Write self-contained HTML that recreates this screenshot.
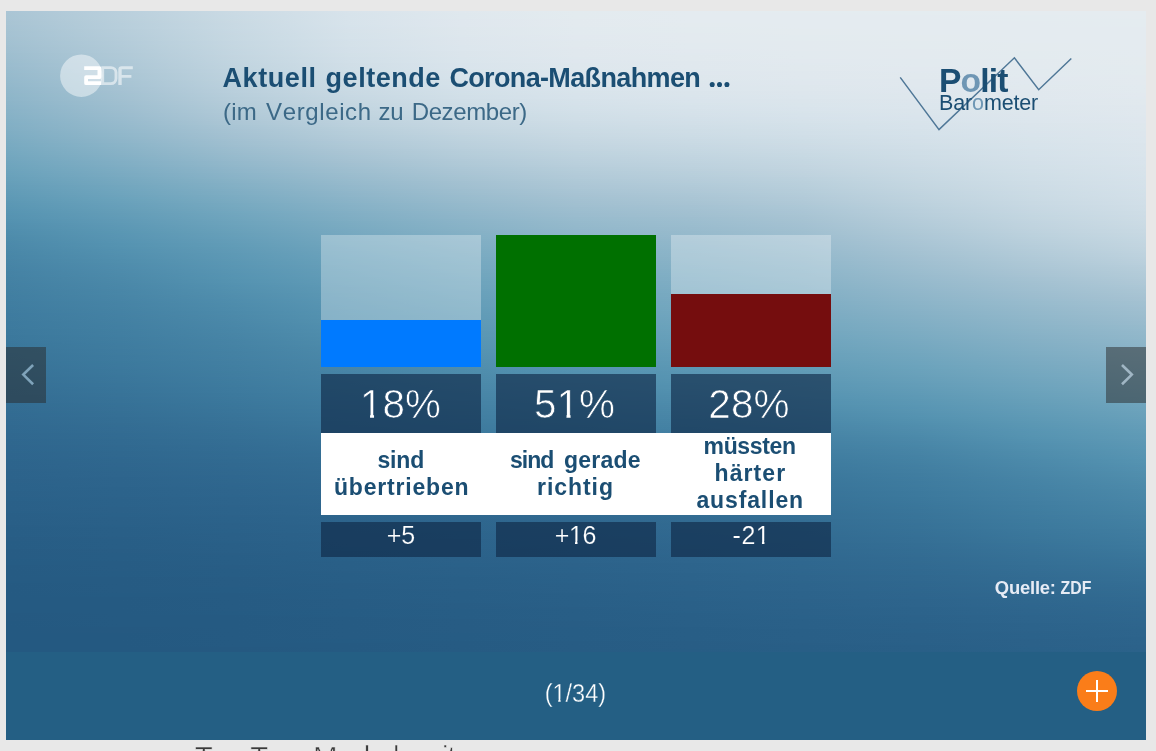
<!DOCTYPE html>
<html lang="de">
<head>
<meta charset="utf-8">
<title>Politbarometer</title>
<style>
html,body{margin:0;padding:0;}
body{width:1156px;height:751px;overflow:hidden;position:relative;background:#e8e8e8;font-family:"Liberation Sans",sans-serif;}
.abs{position:absolute;}
#img{left:6px;top:11px;width:1140px;height:641px;overflow:hidden;background:#245a82;}
#img i{display:block;height:2px;}
#bar{left:6px;top:652px;width:1140px;height:88px;background:#245f84;}
.col{background:rgba(15,42,72,0.65);}
.nav{width:40px;height:56px;top:347px;background:rgba(40,40,40,0.5);}
svg text{font-family:"Liberation Sans",sans-serif;white-space:pre;font-kerning:none;}
</style>
</head>
<body>
<div id="img" class="abs">
<i style="background:linear-gradient(90deg,#aac5d5,#b9cfdc,#cadae4,#d8e3eb,#e0e8ee,#e3ebef,#e4ebf0,#e4ecf0,#e4ecf0,#e5ecf0,#e5ecf0)"></i>
<i style="background:linear-gradient(90deg,#aac5d4,#b9cfdc,#cadae4,#d7e3eb,#dfe8ee,#e3ebef,#e4ebf0,#e4ebf0,#e4ecf0,#e5ecf0,#e5ecf0)"></i>
<i style="background:linear-gradient(90deg,#a9c5d4,#b9cfdc,#c9dae4,#d7e3eb,#dfe8ee,#e3ebef,#e4ebf0,#e4ebf0,#e4ebf0,#e4ecf0,#e5ecf0)"></i>
<i style="background:linear-gradient(90deg,#a9c5d4,#b9cfdb,#c9dae4,#d7e3eb,#dfe8ee,#e3ebef,#e4ebf0,#e4ebf0,#e4ebf0,#e4ecf0,#e5ecf0)"></i>
<i style="background:linear-gradient(90deg,#a9c4d4,#b8cfdb,#c9dae3,#d7e3eb,#dfe7ee,#e3eaef,#e4ebf0,#e4ebf0,#e4ebf0,#e4ecf0,#e4ecf0)"></i>
<i style="background:linear-gradient(90deg,#a8c4d3,#b8cedb,#c9d9e3,#d7e3eb,#dfe7ee,#e3eaef,#e4ebf0,#e4ebf0,#e4ebf0,#e4ebf0,#e4ecf0)"></i>
<i style="background:linear-gradient(90deg,#a8c4d3,#b7cedb,#c8d9e3,#d7e3eb,#dfe7ee,#e3eaef,#e4ebef,#e4ebf0,#e4ebf0,#e4ebf0,#e4ecf0)"></i>
<i style="background:linear-gradient(90deg,#a7c3d3,#b7cedb,#c8d9e3,#d6e3eb,#dfe7ee,#e3eaef,#e4ebef,#e4ebf0,#e4ebf0,#e4ebf0,#e4ecf0)"></i>
<i style="background:linear-gradient(90deg,#a6c3d3,#b7cedb,#c8d9e3,#d6e2eb,#dee7ed,#e2eaef,#e3ebef,#e4ebf0,#e4ebf0,#e4ebf0,#e4ebf0)"></i>
<i style="background:linear-gradient(90deg,#a6c3d2,#b6cdda,#c7d9e3,#d6e2ea,#dee7ed,#e2eaef,#e3ebef,#e4ebef,#e4ebf0,#e4ebf0,#e4ebf0)"></i>
<i style="background:linear-gradient(90deg,#a5c2d2,#b6cdda,#c7d8e3,#d6e2ea,#dee7ed,#e2eaef,#e3ebef,#e4ebef,#e4ebf0,#e4ebf0,#e4ebf0)"></i>
<i style="background:linear-gradient(90deg,#a5c2d2,#b5cdda,#c7d8e2,#d5e2ea,#dee7ed,#e2eaef,#e3eaef,#e4ebef,#e4ebf0,#e4ebf0,#e4ebf0)"></i>
<i style="background:linear-gradient(90deg,#a4c2d2,#b5ccda,#c6d8e2,#d5e2ea,#dde7ed,#e2e9ef,#e3eaef,#e3ebef,#e4ebef,#e4ebf0,#e4ebf0)"></i>
<i style="background:linear-gradient(90deg,#a4c1d1,#b4ccd9,#c6d8e2,#d5e2ea,#dde6ed,#e2e9ef,#e3eaef,#e3ebef,#e4ebef,#e4ebf0,#e4ebf0)"></i>
<i style="background:linear-gradient(90deg,#a3c1d1,#b4ccd9,#c6d8e2,#d4e1ea,#dde6ed,#e1e9ef,#e3eaef,#e3ebef,#e4ebef,#e4ebf0,#e4ebf0)"></i>
<i style="background:linear-gradient(90deg,#a2c1d1,#b3cbd9,#c5d7e2,#d4e1e9,#dde6ed,#e1e9ee,#e3eaef,#e3eaef,#e3ebef,#e4ebf0,#e4ebf0)"></i>
<i style="background:linear-gradient(90deg,#a2c0d1,#b3cbd9,#c5d7e2,#d4e1e9,#dde6ed,#e1e9ee,#e2eaef,#e3eaef,#e3ebef,#e4ebef,#e4ebf0)"></i>
<i style="background:linear-gradient(90deg,#a1c0d0,#b2cbd8,#c5d7e1,#d4e1e9,#dce6ed,#e1e9ee,#e2eaef,#e3eaef,#e3ebef,#e4ebef,#e4ebf0)"></i>
<i style="background:linear-gradient(90deg,#a0bfd0,#b2cad8,#c4d7e1,#d3e0e9,#dce6ed,#e1e8ee,#e2eaef,#e3eaef,#e3ebef,#e4ebef,#e4ebf0)"></i>
<i style="background:linear-gradient(90deg,#a0bfd0,#b1cad8,#c4d6e1,#d3e0e9,#dce6ed,#e0e8ee,#e2e9ef,#e3eaef,#e3eaef,#e4ebef,#e4ebf0)"></i>
<i style="background:linear-gradient(90deg,#9fbfd0,#b1cad8,#c3d6e1,#d3e0e9,#dbe5ec,#e0e8ee,#e2e9ef,#e2eaef,#e3eaef,#e3ebef,#e4ebf0)"></i>
<i style="background:linear-gradient(90deg,#9ebecf,#b0c9d7,#c3d6e1,#d2e0e8,#dbe5ec,#e0e8ee,#e1e9ef,#e2eaef,#e3eaef,#e3ebef,#e4ebf0)"></i>
<i style="background:linear-gradient(90deg,#9dbecf,#b0c9d7,#c3d5e0,#d2e0e8,#dbe5ec,#e0e8ee,#e1e9ee,#e2eaef,#e3eaef,#e3ebef,#e4ebf0)"></i>
<i style="background:linear-gradient(90deg,#9dbdcf,#afc9d7,#c2d5e0,#d1dfe8,#dae5ec,#dfe8ee,#e1e9ee,#e2eaef,#e3eaef,#e3ebef,#e4ebef)"></i>
<i style="background:linear-gradient(90deg,#9cbdce,#aec8d7,#c2d5e0,#d1dfe8,#dae5ec,#dfe7ee,#e1e9ee,#e2e9ef,#e2eaef,#e3eaef,#e4ebef)"></i>
<i style="background:linear-gradient(90deg,#9bbdce,#aec8d6,#c1d5e0,#d1dfe8,#dae5ec,#dfe7ee,#e0e8ee,#e2e9ef,#e2eaef,#e3eaef,#e4ebef)"></i>
<i style="background:linear-gradient(90deg,#9abcce,#adc7d6,#c1d4e0,#d0dee7,#d9e4ec,#dee7ed,#e0e8ee,#e1e9ef,#e2eaef,#e3eaef,#e4ebef)"></i>
<i style="background:linear-gradient(90deg,#9abcce,#adc7d6,#c0d4df,#d0dee7,#d9e4ec,#dee7ed,#e0e8ee,#e1e9ee,#e2eaef,#e3eaef,#e3ebef)"></i>
<i style="background:linear-gradient(90deg,#99bbcd,#acc7d5,#c0d4df,#cfdee7,#d9e4ec,#dee7ed,#e0e8ee,#e1e9ee,#e2e9ef,#e3eaef,#e3ebef)"></i>
<i style="background:linear-gradient(90deg,#98bbcd,#abc6d5,#bfd3df,#cfdee7,#d8e4eb,#dde7ed,#dfe8ee,#e1e9ee,#e2e9ef,#e2eaef,#e3ebef)"></i>
<i style="background:linear-gradient(90deg,#97bbcd,#abc6d5,#bfd3df,#cedde6,#d8e3eb,#dde6ed,#dfe7ee,#e0e8ee,#e1e9ef,#e2eaef,#e3ebef)"></i>
<i style="background:linear-gradient(90deg,#97bacc,#aac5d4,#bed3de,#cedde6,#d7e3eb,#dde6ed,#dfe7ee,#e0e8ee,#e1e9ee,#e2eaef,#e3ebef)"></i>
<i style="background:linear-gradient(90deg,#96bacc,#a9c5d4,#bed2de,#cddde6,#d7e3eb,#dce6ed,#dee7ed,#e0e8ee,#e1e9ee,#e2eaef,#e3eaef)"></i>
<i style="background:linear-gradient(90deg,#95b9cc,#a9c5d4,#bdd2de,#cddce6,#d6e3eb,#dce6ed,#dee7ed,#e0e8ee,#e1e9ee,#e2e9ef,#e3eaef)"></i>
<i style="background:linear-gradient(90deg,#94b9cc,#a8c4d4,#bdd2dd,#ccdce5,#d6e2ea,#dbe5ec,#dee7ed,#dfe8ee,#e0e8ee,#e2e9ef,#e3eaef)"></i>
<i style="background:linear-gradient(90deg,#94b9cb,#a7c4d3,#bcd1dd,#ccdce5,#d5e2ea,#dbe5ec,#dde7ed,#dfe7ee,#e0e8ee,#e1e9ef,#e3eaef)"></i>
<i style="background:linear-gradient(90deg,#93b8cb,#a7c3d3,#bbd1dd,#cbdbe5,#d5e2ea,#dae5ec,#dde6ed,#dfe7ee,#e0e8ee,#e1e9ef,#e3eaef)"></i>
<i style="background:linear-gradient(90deg,#92b8cb,#a6c3d3,#bbd0dd,#cbdbe4,#d4e1ea,#dae5ec,#dde6ed,#dee7ed,#e0e8ee,#e1e9ee,#e2eaef)"></i>
<i style="background:linear-gradient(90deg,#91b7ca,#a5c2d2,#bad0dc,#cadae4,#d4e1e9,#d9e4ec,#dce6ed,#dee7ed,#dfe8ee,#e1e9ee,#e2eaef)"></i>
<i style="background:linear-gradient(90deg,#90b7ca,#a5c2d2,#b9cfdc,#c9dae4,#d3e0e9,#d9e4ec,#dce6ed,#dee7ed,#dfe7ee,#e1e8ee,#e2eaef)"></i>
<i style="background:linear-gradient(90deg,#90b6ca,#a4c1d2,#b9cfdc,#c9d9e3,#d2e0e9,#d8e4eb,#dbe5ec,#dde6ed,#dfe7ee,#e0e8ee,#e2eaef)"></i>
<i style="background:linear-gradient(90deg,#8fb6c9,#a3c1d1,#b8cedb,#c8d9e3,#d2e0e8,#d8e3eb,#dbe5ec,#dde6ed,#dee7ed,#e0e8ee,#e2e9ef)"></i>
<i style="background:linear-gradient(90deg,#8eb6c9,#a2c1d1,#b7cedb,#c7d8e3,#d1dfe8,#d7e3eb,#dae5ec,#dce6ed,#dee7ed,#e0e8ee,#e2e9ef)"></i>
<i style="background:linear-gradient(90deg,#8db5c9,#a2c0d1,#b6cdda,#c6d8e2,#d1dfe8,#d7e3eb,#dae4ec,#dce6ed,#dee7ed,#e0e8ee,#e1e9ef)"></i>
<i style="background:linear-gradient(90deg,#8db5c9,#a1c0d0,#b6cdda,#c6d7e2,#d0dee7,#d6e2ea,#d9e4ec,#dbe5ec,#dde6ed,#dfe8ee,#e1e9ee)"></i>
<i style="background:linear-gradient(90deg,#8cb4c8,#a0bfd0,#b5ccda,#c5d7e1,#cfdee7,#d5e2ea,#d9e4ec,#dbe5ec,#dde6ed,#dfe7ee,#e1e9ee)"></i>
<i style="background:linear-gradient(90deg,#8bb4c8,#9fbfd0,#b4ccd9,#c4d6e1,#cedde6,#d5e1ea,#d8e4eb,#dae5ec,#dce6ed,#dfe7ee,#e1e9ee)"></i>
<i style="background:linear-gradient(90deg,#8ab3c8,#9ebecf,#b3cbd9,#c3d6e1,#cedde6,#d4e1e9,#d7e3eb,#dae5ec,#dce6ed,#dee7ed,#e0e8ee)"></i>
<i style="background:linear-gradient(90deg,#89b3c7,#9dbecf,#b2cbd8,#c2d5e0,#cddce6,#d3e1e9,#d7e3eb,#d9e4ec,#dce6ed,#dee7ed,#e0e8ee)"></i>
<i style="background:linear-gradient(90deg,#88b2c7,#9dbdcf,#b1cad8,#c2d5e0,#ccdce5,#d3e0e9,#d6e2ea,#d9e4ec,#dbe5ec,#dee7ed,#e0e8ee)"></i>
<i style="background:linear-gradient(90deg,#88b2c7,#9cbdce,#b1cad8,#c1d4df,#cbdbe5,#d2e0e8,#d5e2ea,#d8e4eb,#dbe5ec,#dde7ed,#e0e8ee)"></i>
<i style="background:linear-gradient(90deg,#87b2c6,#9bbcce,#b0c9d7,#c0d4df,#cadbe4,#d1dfe8,#d5e1ea,#d7e3eb,#dae5ec,#dde6ed,#e0e8ee)"></i>
<i style="background:linear-gradient(90deg,#86b1c6,#9abcce,#afc8d7,#bfd3de,#c9dae4,#d0dfe7,#d4e1e9,#d7e3eb,#dae4ec,#dde6ed,#dfe8ee)"></i>
<i style="background:linear-gradient(90deg,#85b1c6,#99bbcd,#aec8d6,#bed2de,#c8d9e3,#d0dee7,#d3e0e9,#d6e2eb,#d9e4ec,#dce6ed,#dfe7ee)"></i>
<i style="background:linear-gradient(90deg,#84b0c5,#98bbcd,#adc7d6,#bdd2de,#c8d9e3,#cfdee7,#d2e0e9,#d6e2ea,#d9e4ec,#dce6ed,#dfe7ee)"></i>
<i style="background:linear-gradient(90deg,#83b0c5,#97bacd,#acc6d5,#bcd1dd,#c7d8e2,#cedde6,#d2dfe8,#d5e2ea,#d8e4eb,#dce6ed,#dfe7ee)"></i>
<i style="background:linear-gradient(90deg,#82afc5,#96bacc,#abc6d5,#bbd0dd,#c6d7e2,#cddce6,#d1dfe8,#d4e1e9,#d8e3eb,#dbe5ec,#dee7ed)"></i>
<i style="background:linear-gradient(90deg,#82afc4,#95b9cc,#a9c5d4,#bad0dc,#c5d7e1,#ccdce5,#d0dee7,#d3e1e9,#d7e3eb,#dbe5ec,#dee7ed)"></i>
<i style="background:linear-gradient(90deg,#81aec4,#94b9cb,#a8c4d4,#b8cfdb,#c4d6e1,#cbdbe5,#cfdee7,#d3e0e9,#d7e3eb,#dae5ec,#dee7ed)"></i>
<i style="background:linear-gradient(90deg,#80aec4,#93b8cb,#a7c3d3,#b7cedb,#c3d5e0,#cadbe4,#cedde6,#d2e0e8,#d6e2ea,#dae5ec,#dde7ed)"></i>
<i style="background:linear-gradient(90deg,#7fadc3,#92b8cb,#a6c3d3,#b6cdda,#c2d5e0,#cadae4,#cedde6,#d1dfe8,#d5e2ea,#dae4ec,#dde6ed)"></i>
<i style="background:linear-gradient(90deg,#7eadc3,#91b7ca,#a5c2d2,#b5cdda,#c1d4df,#c9d9e3,#cddce6,#d1dfe8,#d5e2ea,#d9e4ec,#dde6ed)"></i>
<i style="background:linear-gradient(90deg,#7dacc3,#90b7ca,#a4c1d2,#b4ccd9,#bfd3df,#c8d9e3,#ccdce5,#d0dee7,#d4e1ea,#d9e4ec,#dde6ed)"></i>
<i style="background:linear-gradient(90deg,#7cacc2,#8fb6c9,#a3c1d1,#b3cbd9,#bed3de,#c7d8e2,#cbdbe5,#cfdee7,#d4e1e9,#d8e4eb,#dce6ed)"></i>
<i style="background:linear-gradient(90deg,#7babc2,#8eb5c9,#a1c0d1,#b2cad8,#bdd2de,#c6d7e2,#cadae4,#cedde6,#d3e0e9,#d8e4eb,#dce6ed)"></i>
<i style="background:linear-gradient(90deg,#7aabc1,#8db5c9,#a0bfd0,#b0c9d8,#bcd1dd,#c5d7e1,#c9dae4,#cddde6,#d3e0e9,#d8e3eb,#dce6ed)"></i>
<i style="background:linear-gradient(90deg,#79aac1,#8bb4c8,#9fbfd0,#afc9d7,#bbd0dd,#c4d6e1,#c8d9e3,#cddce5,#d2e0e8,#d7e3eb,#dbe5ec)"></i>
<i style="background:linear-gradient(90deg,#78aac1,#8ab4c8,#9ebecf,#aec8d6,#bad0dc,#c3d5e0,#c7d8e3,#ccdbe5,#d1dfe8,#d7e3eb,#dbe5ec)"></i>
<i style="background:linear-gradient(90deg,#77a9c0,#89b3c7,#9cbdcf,#adc7d6,#b9cfdc,#c2d5e0,#c6d8e2,#cbdbe5,#d1dfe8,#d6e3eb,#dbe5ec)"></i>
<i style="background:linear-gradient(90deg,#76a9c0,#88b2c7,#9bbdce,#abc6d5,#b7cedb,#c1d4df,#c5d7e2,#cadae4,#d0dee7,#d6e2ea,#dbe5ec)"></i>
<i style="background:linear-gradient(90deg,#75a8c0,#87b2c6,#9abcce,#aac5d4,#b6cdda,#bfd3df,#c4d7e1,#c9dae4,#cfdee7,#d5e2ea,#dae5ec)"></i>
<i style="background:linear-gradient(90deg,#74a8bf,#86b1c6,#99bbcd,#a9c4d4,#b5cdda,#bed3de,#c3d6e1,#c8d9e3,#cfdee7,#d5e2ea,#dae5ec)"></i>
<i style="background:linear-gradient(90deg,#73a7bf,#85b0c5,#97bbcd,#a7c4d3,#b4ccd9,#bdd2de,#c2d5e0,#c7d9e3,#cedde6,#d5e1ea,#dae5ec)"></i>
<i style="background:linear-gradient(90deg,#72a6be,#83b0c5,#96bacc,#a6c3d3,#b3cbd9,#bcd1dd,#c1d4e0,#c6d8e2,#cedde6,#d4e1e9,#d9e4ec)"></i>
<i style="background:linear-gradient(90deg,#71a6be,#82afc5,#95b9cc,#a5c2d2,#b1cad8,#bbd0dd,#c0d4df,#c5d7e2,#cddce6,#d4e1e9,#d9e4ec)"></i>
<i style="background:linear-gradient(90deg,#70a5be,#81aec4,#93b8cb,#a4c1d1,#b0c9d7,#bad0dc,#bfd3df,#c4d7e1,#ccdce5,#d3e0e9,#d9e4ec)"></i>
<i style="background:linear-gradient(90deg,#6fa5bd,#80aec4,#92b8cb,#a2c0d1,#afc9d7,#b9cfdc,#bed2de,#c4d6e1,#ccdbe5,#d3e0e9,#d9e4ec)"></i>
<i style="background:linear-gradient(90deg,#6ea4bd,#7fadc3,#91b7ca,#a1c0d0,#aec8d6,#b8cedb,#bdd2de,#c3d5e0,#cbdbe5,#d2e0e8,#d8e4eb)"></i>
<i style="background:linear-gradient(90deg,#6da4bc,#7dacc3,#8fb6ca,#9fbfd0,#acc7d6,#b6cdda,#bcd1dd,#c2d5e0,#cadae4,#d2e0e8,#d8e3eb)"></i>
<i style="background:linear-gradient(90deg,#6ca3bc,#7cacc2,#8eb5c9,#9ebecf,#abc6d5,#b5cdda,#bbd0dc,#c1d4df,#c9dae4,#d1dfe8,#d8e3eb)"></i>
<i style="background:linear-gradient(90deg,#6ba2bc,#7babc2,#8db5c9,#9dbecf,#aac5d4,#b4ccd9,#b9cfdc,#c0d3df,#c9dae3,#d1dfe8,#d7e3eb)"></i>
<i style="background:linear-gradient(90deg,#6aa2bb,#7aaac1,#8bb4c8,#9bbdce,#a9c4d4,#b3cbd9,#b8cfdb,#bfd3de,#c8d9e3,#d0dfe7,#d7e3eb)"></i>
<i style="background:linear-gradient(90deg,#69a1bb,#79aac1,#8ab3c8,#9abcce,#a7c4d3,#b2cad8,#b7cedb,#bed2de,#c7d9e3,#d0dee7,#d6e3eb)"></i>
<i style="background:linear-gradient(90deg,#68a0ba,#77a9c0,#89b3c7,#99bbcd,#a6c3d2,#b1cad8,#b6cdda,#bcd1dd,#c7d8e2,#cfdee7,#d6e2eb)"></i>
<i style="background:linear-gradient(90deg,#67a0ba,#76a8c0,#87b2c6,#97bbcd,#a5c2d2,#afc9d7,#b5ccda,#bbd1dd,#c6d8e2,#cfdee7,#d6e2ea)"></i>
<i style="background:linear-gradient(90deg,#669fb9,#75a8bf,#86b1c6,#96bacc,#a3c1d1,#aec8d6,#b4ccd9,#bad0dc,#c5d7e2,#cedde6,#d5e2ea)"></i>
<i style="background:linear-gradient(90deg,#659eb9,#74a7bf,#84b0c5,#95b9cc,#a2c0d1,#adc7d6,#b2cbd9,#b9cfdc,#c4d7e1,#cedde6,#d5e2ea)"></i>
<i style="background:linear-gradient(90deg,#649db8,#72a6be,#83b0c5,#93b8cb,#a1c0d0,#acc6d5,#b1cad8,#b8cfdb,#c4d6e1,#cddce6,#d5e1ea)"></i>
<i style="background:linear-gradient(90deg,#639db8,#71a6be,#82afc4,#92b8cb,#a0bfd0,#abc6d5,#b0c9d7,#b7cedb,#c3d6e0,#cddce5,#d4e1ea)"></i>
<i style="background:linear-gradient(90deg,#629cb7,#70a5be,#80aec4,#91b7ca,#9ebecf,#a9c5d4,#afc8d7,#b6cdda,#c2d5e0,#ccdce5,#d4e1e9)"></i>
<i style="background:linear-gradient(90deg,#619bb7,#6fa5bd,#7fadc3,#8fb6ca,#9dbecf,#a8c4d4,#aec8d6,#b5cdda,#c1d4e0,#cbdbe5,#d3e1e9)"></i>
<i style="background:linear-gradient(90deg,#609bb6,#6ea4bd,#7eadc3,#8eb5c9,#9cbdce,#a7c3d3,#acc7d6,#b4ccd9,#c0d4df,#cbdbe5,#d3e0e9)"></i>
<i style="background:linear-gradient(90deg,#5f9ab6,#6da3bc,#7cacc2,#8db5c9,#9abcce,#a6c2d2,#abc6d5,#b3cbd9,#bfd3df,#cadbe4,#d3e0e9)"></i>
<i style="background:linear-gradient(90deg,#5e99b5,#6ba3bc,#7babc2,#8bb4c8,#99bccd,#a4c2d2,#aac5d4,#b2cad8,#bfd3de,#cadae4,#d2e0e8)"></i>
<i style="background:linear-gradient(90deg,#5d99b5,#6aa2bb,#7aabc1,#8ab3c8,#98bbcd,#a3c1d1,#a9c5d4,#b1cad8,#bed2de,#c9dae4,#d2dfe8)"></i>
<i style="background:linear-gradient(90deg,#5c98b4,#69a1bb,#79aac1,#89b3c7,#97bacc,#a2c0d1,#a8c4d3,#b0c9d7,#bdd2de,#c8d9e3,#d1dfe8)"></i>
<i style="background:linear-gradient(90deg,#5b97b4,#68a0ba,#77a9c0,#87b2c7,#95b9cc,#a1c0d0,#a7c3d3,#afc8d7,#bcd1dd,#c8d9e3,#d1dfe8)"></i>
<i style="background:linear-gradient(90deg,#5a97b3,#679fba,#76a9c0,#86b1c6,#94b9cb,#a0bfd0,#a5c2d2,#adc8d6,#bbd1dd,#c7d8e3,#d0dee7)"></i>
<i style="background:linear-gradient(90deg,#5996b3,#669fb9,#75a8bf,#85b1c6,#93b8cb,#9ebecf,#a4c2d2,#acc7d6,#bad0dc,#c6d8e2,#d0dee7)"></i>
<i style="background:linear-gradient(90deg,#5895b3,#659eb8,#74a7bf,#84b0c5,#92b7ca,#9dbecf,#a3c1d1,#abc6d5,#b9cfdc,#c6d7e2,#cfdee7)"></i>
<i style="background:linear-gradient(90deg,#5795b2,#649db8,#72a7bf,#82afc5,#90b7ca,#9cbdcf,#a2c0d1,#aac5d5,#b9cfdc,#c5d7e2,#cedde6)"></i>
<i style="background:linear-gradient(90deg,#5694b2,#639cb7,#71a6be,#81aec4,#8fb6ca,#9bbcce,#a1c0d0,#a9c5d4,#b8cedb,#c4d7e1,#cedde6)"></i>
<i style="background:linear-gradient(90deg,#5693b1,#629cb7,#70a5be,#80aec4,#8eb5c9,#9abcce,#a0bfd0,#a8c4d3,#b7cedb,#c3d6e1,#cddce6)"></i>
<i style="background:linear-gradient(90deg,#5593b1,#619bb7,#6fa5bd,#7fadc3,#8db5c9,#98bbcd,#9ebecf,#a7c3d3,#b6cdda,#c3d6e0,#cddce5)"></i>
<i style="background:linear-gradient(90deg,#5492b0,#609ab6,#6ea4bd,#7eadc3,#8bb4c8,#97bbcd,#9dbecf,#a6c3d2,#b5ccda,#c2d5e0,#ccdce5)"></i>
<i style="background:linear-gradient(90deg,#5391b0,#5f9ab6,#6da3bc,#7cacc2,#8ab3c8,#96bacc,#9cbdcf,#a5c2d2,#b4ccd9,#c1d4e0,#cbdbe5)"></i>
<i style="background:linear-gradient(90deg,#5290af,#5e99b5,#6ca3bc,#7babc2,#89b3c7,#95b9cc,#9bbdce,#a4c1d2,#b3cbd9,#c0d4df,#cbdbe4)"></i>
<i style="background:linear-gradient(90deg,#528fae,#5d98b5,#6ba2bb,#7aabc1,#88b2c7,#94b9cb,#9abcce,#a3c1d1,#b2cbd8,#c0d3df,#cadae4)"></i>
<i style="background:linear-gradient(90deg,#518fae,#5c98b4,#6aa1bb,#79aac1,#87b2c6,#93b8cb,#99bbcd,#a2c0d1,#b1cad8,#bfd3de,#c9dae4)"></i>
<i style="background:linear-gradient(90deg,#508ead,#5b97b4,#69a1ba,#78a9c1,#86b1c6,#92b7cb,#98bbcd,#a1c0d0,#b0c9d7,#bed2de,#c8d9e3)"></i>
<i style="background:linear-gradient(90deg,#4f8dad,#5a97b3,#68a0ba,#77a9c0,#85b0c5,#91b7ca,#97bacc,#a0bfd0,#afc9d7,#bdd2de,#c8d9e3)"></i>
<i style="background:linear-gradient(90deg,#4f8dac,#5996b3,#679fb9,#76a8c0,#83b0c5,#8fb6ca,#96bacc,#9fbfd0,#aec8d6,#bcd1dd,#c7d8e2)"></i>
<i style="background:linear-gradient(90deg,#4e8cab,#5995b3,#669fb9,#75a8bf,#82afc5,#8eb6c9,#95b9cc,#9ebecf,#adc7d6,#bbd1dd,#c6d8e2)"></i>
<i style="background:linear-gradient(90deg,#4d8bab,#5895b2,#659eb9,#74a7bf,#81afc4,#8db5c9,#94b8cb,#9dbdcf,#acc7d6,#bad0dc,#c5d7e2)"></i>
<i style="background:linear-gradient(90deg,#4d8baa,#5794b2,#649db8,#73a7bf,#80aec4,#8cb4c8,#92b8cb,#9cbdce,#abc6d5,#b9cfdc,#c4d7e1)"></i>
<i style="background:linear-gradient(90deg,#4c8aaa,#5694b2,#639db8,#72a6be,#7fadc3,#8bb4c8,#91b7ca,#9bbcce,#aac5d5,#b8cfdb,#c3d6e1)"></i>
<i style="background:linear-gradient(90deg,#4c89aa,#5593b1,#629cb7,#71a6be,#7eadc3,#8ab3c8,#90b7ca,#9abcce,#a9c5d4,#b7cedb,#c3d5e0)"></i>
<i style="background:linear-gradient(90deg,#4b89a9,#5593b1,#619cb7,#70a5bd,#7dacc3,#89b3c7,#8fb6ca,#99bbcd,#a8c4d4,#b6cdda,#c2d5e0)"></i>
<i style="background:linear-gradient(90deg,#4b88a9,#5492b0,#609bb6,#6fa4bd,#7cacc2,#88b2c7,#8eb6c9,#98bbcd,#a7c3d3,#b5cdda,#c1d4df)"></i>
<i style="background:linear-gradient(90deg,#4a88a8,#5391b0,#609ab6,#6ea4bd,#7babc2,#87b2c6,#8db5c9,#97bacd,#a6c3d3,#b4ccd9,#c0d4df)"></i>
<i style="background:linear-gradient(90deg,#4987a8,#5391af,#5f9ab6,#6da3bc,#7aabc1,#86b1c6,#8cb5c9,#96bacc,#a5c2d2,#b3cbd9,#bfd3df)"></i>
<i style="background:linear-gradient(90deg,#4987a7,#5290af,#5e99b5,#6ca3bc,#79aac1,#85b1c6,#8cb4c8,#95b9cc,#a4c2d2,#b2cbd8,#bed2de)"></i>
<i style="background:linear-gradient(90deg,#4886a7,#528fae,#5d99b5,#6ba2bc,#78aac1,#84b0c5,#8bb4c8,#94b9cb,#a3c1d1,#b1cad8,#bdd2de)"></i>
<i style="background:linear-gradient(90deg,#4886a7,#518fae,#5d98b5,#6aa2bb,#77a9c0,#83afc5,#8ab3c7,#93b8cb,#a2c0d1,#b0c9d7,#bcd1dd)"></i>
<i style="background:linear-gradient(90deg,#4885a6,#508ead,#5c98b4,#69a1bb,#76a9c0,#82afc4,#89b3c7,#92b8cb,#a1c0d1,#afc9d7,#bbd0dd)"></i>
<i style="background:linear-gradient(90deg,#4785a6,#508ead,#5b97b4,#68a1ba,#75a8c0,#81aec4,#88b2c7,#91b7ca,#a0bfd0,#aec8d6,#bad0dc)"></i>
<i style="background:linear-gradient(90deg,#4784a6,#4f8dac,#5a97b4,#68a0ba,#74a8bf,#80aec4,#87b2c6,#90b7ca,#9fbfd0,#adc7d6,#b9cfdc)"></i>
<i style="background:linear-gradient(90deg,#4684a5,#4f8cac,#5a96b3,#679fb9,#73a7bf,#7fadc3,#86b1c6,#8fb6ca,#9ebecf,#acc7d5,#b7cedb)"></i>
<i style="background:linear-gradient(90deg,#4683a5,#4e8cac,#5996b3,#669fb9,#73a7bf,#7eadc3,#85b1c6,#8eb6c9,#9dbecf,#abc6d5,#b6cdda)"></i>
<i style="background:linear-gradient(90deg,#4583a5,#4e8bab,#5895b3,#659eb9,#72a6be,#7dacc3,#84b0c5,#8db5c9,#9cbdcf,#aac5d4,#b5cdda)"></i>
<i style="background:linear-gradient(90deg,#4582a4,#4d8bab,#5895b2,#649eb8,#71a6be,#7cacc2,#83b0c5,#8cb5c9,#9bbdce,#a9c4d4,#b4ccd9)"></i>
<i style="background:linear-gradient(90deg,#4582a4,#4d8aaa,#5794b2,#649db8,#70a5bd,#7babc2,#82afc5,#8cb4c8,#9abcce,#a8c4d3,#b3cbd9)"></i>
<i style="background:linear-gradient(90deg,#4482a4,#4c8aaa,#5694b2,#639db8,#6fa5bd,#7aabc1,#81afc4,#8bb4c8,#99bbcd,#a7c3d3,#b2cbd8)"></i>
<i style="background:linear-gradient(90deg,#4481a3,#4c89a9,#5694b1,#629cb7,#6ea4bd,#79aac1,#80aec4,#8ab3c7,#98bbcd,#a5c2d2,#b1cad8)"></i>
<i style="background:linear-gradient(90deg,#4481a3,#4b89a9,#5593b1,#619cb7,#6da4bc,#78aac1,#80aec4,#89b3c7,#97bacd,#a4c2d2,#b0c9d7)"></i>
<i style="background:linear-gradient(90deg,#4381a3,#4b88a9,#5593b1,#619bb7,#6ca3bc,#77a9c0,#7fadc3,#88b2c7,#96bacc,#a3c1d1,#afc8d7)"></i>
<i style="background:linear-gradient(90deg,#4380a3,#4a88a8,#5492b0,#609bb6,#6ca3bc,#76a9c0,#7eadc3,#87b2c6,#95b9cc,#a2c0d1,#aec8d6)"></i>
<i style="background:linear-gradient(90deg,#4380a2,#4a87a8,#5391b0,#5f9ab6,#6ba2bb,#76a8c0,#7dacc3,#86b1c6,#94b9cb,#a1c0d0,#acc7d6)"></i>
<i style="background:linear-gradient(90deg,#4280a2,#4987a8,#5391af,#5e99b5,#6aa2bb,#75a8bf,#7cacc2,#85b1c6,#93b8cb,#a0bfd0,#abc6d5)"></i>
<i style="background:linear-gradient(90deg,#427fa2,#4986a7,#5290af,#5e99b5,#69a1bb,#74a7bf,#7babc2,#84b0c5,#92b7cb,#9fbfd0,#aac5d4)"></i>
<i style="background:linear-gradient(90deg,#427fa1,#4886a7,#5290ae,#5d99b5,#68a0ba,#73a7bf,#7aabc2,#83b0c5,#91b7ca,#9ebecf,#a9c5d4)"></i>
<i style="background:linear-gradient(90deg,#417fa1,#4886a7,#518fae,#5c98b4,#67a0ba,#72a6be,#79aac1,#83afc5,#90b6ca,#9dbdcf,#a8c4d3)"></i>
<i style="background:linear-gradient(90deg,#417ea1,#4885a6,#518ead,#5c98b4,#679fb9,#71a6be,#79aac1,#82afc4,#8fb6c9,#9cbdce,#a7c3d3)"></i>
<i style="background:linear-gradient(90deg,#417ea1,#4785a6,#508ead,#5b97b4,#669fb9,#70a5be,#78a9c1,#81aec4,#8eb5c9,#9bbcce,#a6c2d2)"></i>
<i style="background:linear-gradient(90deg,#407ea1,#4784a6,#4f8dad,#5a97b4,#659eb9,#6fa5bd,#77a9c0,#80aec4,#8db5c9,#99bcce,#a5c2d2)"></i>
<i style="background:linear-gradient(90deg,#407da0,#4684a5,#4f8dac,#5a96b3,#649eb8,#6fa4bd,#76a8c0,#7fadc3,#8cb4c8,#98bbcd,#a3c1d1)"></i>
<i style="background:linear-gradient(90deg,#407da0,#4683a5,#4e8cac,#5996b3,#649db8,#6ea4bd,#75a8c0,#7eadc3,#8bb4c8,#97bbcd,#a2c1d1)"></i>
<i style="background:linear-gradient(90deg,#3f7da0,#4683a5,#4e8cab,#5895b3,#639db8,#6da4bc,#74a8bf,#7dacc3,#8ab3c7,#96bacc,#a1c0d1)"></i>
<i style="background:linear-gradient(90deg,#3f7ca0,#4583a4,#4d8bab,#5895b2,#629cb7,#6ca3bc,#74a7bf,#7cacc2,#89b3c7,#95b9cc,#a0bfd0)"></i>
<i style="background:linear-gradient(90deg,#3f7c9f,#4582a4,#4d8bab,#5794b2,#619cb7,#6ba3bc,#73a7bf,#7cabc2,#88b2c7,#94b9cb,#9fbfd0)"></i>
<i style="background:linear-gradient(90deg,#3f7c9f,#4482a4,#4c8aaa,#5694b2,#619bb7,#6ba2bb,#72a6be,#7babc2,#87b1c6,#93b8cb,#9ebecf)"></i>
<i style="background:linear-gradient(90deg,#3e7b9f,#4481a4,#4c8aaa,#5694b1,#609bb6,#6aa1bb,#71a6be,#7aaac1,#86b1c6,#92b8cb,#9dbecf)"></i>
<i style="background:linear-gradient(90deg,#3e7b9f,#4481a3,#4c89a9,#5593b1,#5f9ab6,#69a1bb,#70a5be,#79aac1,#85b0c5,#91b7ca,#9cbdce)"></i>
<i style="background:linear-gradient(90deg,#3e7b9e,#4381a3,#4b89a9,#5593b1,#5f9ab6,#68a0ba,#6fa5bd,#78aac1,#84b0c5,#90b7ca,#9bbcce)"></i>
<i style="background:linear-gradient(90deg,#3e7b9e,#4380a3,#4b88a9,#5492b0,#5e99b5,#67a0ba,#6fa4bd,#77a9c0,#83afc5,#8fb6c9,#9abcce)"></i>
<i style="background:linear-gradient(90deg,#3d7a9e,#4380a2,#4a88a8,#5492b0,#5d99b5,#679fb9,#6ea4bd,#76a9c0,#82afc4,#8eb5c9,#99bbcd)"></i>
<i style="background:linear-gradient(90deg,#3d7a9e,#4280a2,#4a87a8,#5391af,#5d98b5,#669fb9,#6da4bc,#75a8c0,#81aec4,#8db5c9,#98bbcd)"></i>
<i style="background:linear-gradient(90deg,#3d7a9e,#427fa2,#4987a8,#5290af,#5c98b4,#659eb9,#6ca3bc,#74a8bf,#80aec4,#8cb4c8,#96bacc)"></i>
<i style="background:linear-gradient(90deg,#3d7a9d,#427fa2,#4986a7,#5290af,#5b97b4,#649eb8,#6ba3bc,#74a7bf,#7fadc3,#8bb4c8,#95bacc)"></i>
<i style="background:linear-gradient(90deg,#3c799d,#417fa1,#4886a7,#518fae,#5b97b4,#649db8,#6ba2bb,#73a7bf,#7eadc3,#8ab3c7,#94b9cc)"></i>
<i style="background:linear-gradient(90deg,#3c799d,#417ea1,#4886a7,#518fae,#5a96b3,#639db8,#6aa1bb,#72a6be,#7dacc2,#89b3c7,#93b8cb)"></i>
<i style="background:linear-gradient(90deg,#3c799d,#417ea1,#4885a6,#508ead,#5996b3,#629cb7,#69a1bb,#71a6be,#7cacc2,#88b2c7,#92b8cb)"></i>
<i style="background:linear-gradient(90deg,#3b789c,#407ea1,#4785a6,#508ead,#5996b3,#619cb7,#68a0ba,#70a5be,#7babc2,#87b1c6,#91b7ca)"></i>
<i style="background:linear-gradient(90deg,#3b789c,#407da0,#4784a6,#4f8dac,#5895b2,#619bb7,#67a0ba,#6fa5bd,#7aabc1,#86b1c6,#90b7ca)"></i>
<i style="background:linear-gradient(90deg,#3b789c,#407da0,#4684a5,#4f8dac,#5795b2,#609bb6,#679fb9,#6ea4bd,#79aac1,#85b0c5,#8fb6ca)"></i>
<i style="background:linear-gradient(90deg,#3b779c,#3f7da0,#4683a5,#4e8cac,#5794b2,#5f9ab6,#669fb9,#6da4bd,#78a9c1,#84b0c5,#8eb6c9)"></i>
<i style="background:linear-gradient(90deg,#3a779b,#3f7ca0,#4683a5,#4e8cab,#5694b2,#5e9ab5,#659eb9,#6da3bc,#77a9c0,#83afc5,#8db5c9)"></i>
<i style="background:linear-gradient(90deg,#3a779b,#3f7c9f,#4583a4,#4d8bab,#5693b1,#5e99b5,#649eb8,#6ca3bc,#76a8c0,#82afc4,#8cb4c8)"></i>
<i style="background:linear-gradient(90deg,#3a769b,#3f7c9f,#4582a4,#4d8aaa,#5593b1,#5d99b5,#639db8,#6ba2bb,#75a8bf,#81aec4,#8bb4c8)"></i>
<i style="background:linear-gradient(90deg,#3a769a,#3e7b9f,#4482a4,#4c8aaa,#5492b1,#5c98b4,#639cb7,#6aa2bb,#74a7bf,#80aec4,#8ab3c8)"></i>
<i style="background:linear-gradient(90deg,#3a769a,#3e7b9f,#4481a3,#4c89aa,#5492b0,#5c98b4,#629cb7,#69a1bb,#73a7bf,#7fadc3,#89b3c7)"></i>
<i style="background:linear-gradient(90deg,#39759a,#3e7b9e,#4481a3,#4b89a9,#5391b0,#5b97b4,#619bb7,#68a0ba,#72a6be,#7eadc3,#88b2c7)"></i>
<i style="background:linear-gradient(90deg,#39759a,#3d7a9e,#4381a3,#4b88a9,#5390af,#5a97b3,#609bb6,#67a0ba,#71a6be,#7dacc2,#87b2c6)"></i>
<i style="background:linear-gradient(90deg,#397599,#3d7a9e,#4380a3,#4a88a9,#5290af,#5996b3,#5f9ab6,#679fb9,#70a5be,#7cabc2,#86b1c6)"></i>
<i style="background:linear-gradient(90deg,#397499,#3d7a9e,#4380a2,#4a87a8,#518fae,#5996b3,#5f9ab6,#669fb9,#6fa5bd,#7babc2,#85b1c6)"></i>
<i style="background:linear-gradient(90deg,#387499,#3c7a9d,#427fa2,#4987a8,#518fae,#5895b2,#5e99b5,#659eb9,#6ea4bd,#7aaac1,#84b0c5)"></i>
<i style="background:linear-gradient(90deg,#387499,#3c799d,#427fa2,#4986a7,#508ead,#5795b2,#5d99b5,#649db8,#6da4bd,#79aac1,#83afc5)"></i>
<i style="background:linear-gradient(90deg,#387398,#3c799d,#417fa1,#4886a7,#508dad,#5794b2,#5c98b4,#639db8,#6ca3bc,#78a9c0,#82afc4)"></i>
<i style="background:linear-gradient(90deg,#387398,#3c789d,#417ea1,#4885a7,#4f8dac,#5694b1,#5b97b4,#629cb7,#6ba3bc,#77a9c0,#81aec4)"></i>
<i style="background:linear-gradient(90deg,#377398,#3b789c,#417ea1,#4885a6,#4e8cac,#5593b1,#5b97b4,#619cb7,#6aa2bb,#76a8c0,#80aec4)"></i>
<i style="background:linear-gradient(90deg,#377298,#3b789c,#407ea0,#4784a6,#4e8cab,#5492b1,#5a96b3,#609bb6,#6aa1bb,#75a8bf,#7fadc3)"></i>
<i style="background:linear-gradient(90deg,#377297,#3b779c,#407da0,#4784a5,#4d8bab,#5492b0,#5996b3,#609ab6,#69a1ba,#74a7bf,#7eadc3)"></i>
<i style="background:linear-gradient(90deg,#377297,#3a779b,#407da0,#4683a5,#4d8aaa,#5391af,#5895b3,#5f9ab6,#68a0ba,#73a7bf,#7dacc3)"></i>
<i style="background:linear-gradient(90deg,#367197,#3a769b,#3f7ca0,#4683a5,#4c8aaa,#5290af,#5895b2,#5e99b5,#679fb9,#72a6be,#7cacc2)"></i>
<i style="background:linear-gradient(90deg,#367196,#3a769b,#3f7c9f,#4583a4,#4c89a9,#5290ae,#5794b2,#5d99b5,#669fb9,#71a5be,#7babc2)"></i>
<i style="background:linear-gradient(90deg,#367196,#3a769a,#3e7c9f,#4582a4,#4b89a9,#518fae,#5694b1,#5c98b4,#659eb9,#70a5bd,#7aabc1)"></i>
<i style="background:linear-gradient(90deg,#367096,#39759a,#3e7b9f,#4482a4,#4a88a8,#508ead,#5593b1,#5b97b4,#649db8,#6fa4bd,#79aac1)"></i>
<i style="background:linear-gradient(90deg,#357096,#39759a,#3e7b9e,#4481a3,#4a87a8,#508dad,#5492b0,#5a97b4,#639db8,#6ea4bd,#78a9c1)"></i>
<i style="background:linear-gradient(90deg,#357095,#397499,#3d7a9e,#4381a3,#4987a8,#4f8dac,#5492b0,#5a96b3,#629cb7,#6da3bc,#77a9c0)"></i>
<i style="background:linear-gradient(90deg,#356f95,#387499,#3d7a9e,#4380a2,#4986a7,#4e8cac,#5391af,#5996b3,#619bb7,#6ca3bc,#76a8c0)"></i>
<i style="background:linear-gradient(90deg,#356f95,#387499,#3d7a9e,#4280a2,#4885a7,#4d8bab,#5290af,#5895b2,#609bb6,#6ba2bb,#75a8bf)"></i>
<i style="background:linear-gradient(90deg,#356f95,#387398,#3c799d,#427fa2,#4785a6,#4d8aaa,#518fae,#5794b2,#5f9ab6,#6aa1bb,#74a7bf)"></i>
<i style="background:linear-gradient(90deg,#346e94,#387398,#3c799d,#417fa1,#4784a6,#4c8aaa,#508ead,#5694b2,#5e99b5,#69a1ba,#73a7bf)"></i>
<i style="background:linear-gradient(90deg,#346e94,#377298,#3c789c,#417ea1,#4684a5,#4b89a9,#508dad,#5593b1,#5d99b5,#68a0ba,#72a6be)"></i>
<i style="background:linear-gradient(90deg,#346e94,#377297,#3b789c,#407ea1,#4683a5,#4b88a9,#4f8dac,#5492b0,#5c98b4,#679fb9,#71a6be)"></i>
<i style="background:linear-gradient(90deg,#346d94,#377297,#3b779c,#407da0,#4582a4,#4a88a8,#4e8cac,#5391b0,#5b97b4,#669fb9,#70a5bd)"></i>
<i style="background:linear-gradient(90deg,#336d93,#367197,#3a779b,#407da0,#4582a4,#4987a8,#4d8bab,#5391af,#5a97b4,#659eb8,#6fa5bd)"></i>
<i style="background:linear-gradient(90deg,#336d93,#367196,#3a769b,#3f7c9f,#4481a3,#4986a7,#4d8aaa,#5290ae,#5996b3,#649db8,#6ea4bd)"></i>
<i style="background:linear-gradient(90deg,#336c93,#367096,#3a769a,#3f7c9f,#4381a3,#4885a7,#4c89aa,#518fae,#5895b3,#639db8,#6da3bc)"></i>
<i style="background:linear-gradient(90deg,#336c92,#367096,#39759a,#3e7b9f,#4380a2,#4785a6,#4b89a9,#508ead,#5895b2,#629cb7,#6ca3bc)"></i>
<i style="background:linear-gradient(90deg,#326c92,#357095,#39759a,#3e7b9e,#427fa2,#4784a5,#4a88a8,#4f8dac,#5794b2,#619bb7,#6ba2bb)"></i>
<i style="background:linear-gradient(90deg,#326b92,#356f95,#397499,#3d7a9e,#427fa2,#4683a5,#4a87a8,#4e8cac,#5693b1,#609bb6,#6aa1bb)"></i>
<i style="background:linear-gradient(90deg,#326b92,#356f95,#387499,#3d7a9e,#417ea1,#4583a4,#4986a7,#4e8bab,#5593b1,#5f9ab6,#69a1ba)"></i>
<i style="background:linear-gradient(90deg,#326b91,#346e94,#387398,#3c799d,#417ea1,#4582a4,#4886a7,#4d8aaa,#5492b0,#5e99b5,#68a0ba)"></i>
<i style="background:linear-gradient(90deg,#326a91,#346e94,#387398,#3c799d,#407da0,#4481a3,#4785a6,#4c8aaa,#5391af,#5d99b5,#679fba)"></i>
<i style="background:linear-gradient(90deg,#316a91,#346e94,#377298,#3b789c,#3f7da0,#4381a3,#4784a5,#4b89a9,#5290af,#5c98b4,#669fb9)"></i>
<i style="background:linear-gradient(90deg,#316a91,#346d93,#377297,#3b789c,#3f7c9f,#4380a2,#4683a5,#4a88a9,#518fae,#5b97b4,#659eb9)"></i>
<i style="background:linear-gradient(90deg,#316990,#336d93,#377197,#3b779b,#3e7b9f,#427fa2,#4583a4,#4a87a8,#508ead,#5a97b3,#649db8)"></i>
<i style="background:linear-gradient(90deg,#316990,#336c93,#367196,#3a769b,#3e7b9e,#417fa1,#4482a4,#4986a7,#508dad,#5996b3,#639db8)"></i>
<i style="background:linear-gradient(90deg,#306990,#336c93,#367096,#3a769a,#3d7a9e,#417ea1,#4481a3,#4886a7,#4f8cac,#5895b3,#629cb7)"></i>
<i style="background:linear-gradient(90deg,#306990,#336c92,#367096,#39759a,#3d7a9e,#407da0,#4380a3,#4785a6,#4e8cab,#5795b2,#619cb7)"></i>
<i style="background:linear-gradient(90deg,#30688f,#326b92,#357095,#397599,#3c799d,#407da0,#4280a2,#4784a5,#4d8bab,#5794b2,#609bb6)"></i>
<i style="background:linear-gradient(90deg,#30688f,#326b92,#356f95,#387499,#3c799d,#3f7c9f,#427fa2,#4683a5,#4c8aaa,#5694b1,#5f9ab6)"></i>
<i style="background:linear-gradient(90deg,#30688f,#326b91,#356f95,#387399,#3b789c,#3e7b9f,#417ea1,#4582a4,#4b89a9,#5593b1,#5f9ab6)"></i>
<i style="background:linear-gradient(90deg,#2f678f,#316a91,#346e94,#387398,#3b779c,#3e7b9e,#417ea1,#4482a4,#4b88a9,#5492b0,#5e99b5)"></i>
<i style="background:linear-gradient(90deg,#2f678e,#316a91,#346e94,#377298,#3a779b,#3d7a9e,#407da0,#4481a3,#4a87a8,#5391b0,#5d98b5)"></i>
<i style="background:linear-gradient(90deg,#2f678e,#316a91,#346d94,#377297,#3a769b,#3d7a9e,#3f7ca0,#4380a3,#4987a8,#5290af,#5c98b4)"></i>
<i style="background:linear-gradient(90deg,#2f668e,#316990,#336d93,#377197,#39759a,#3c799d,#3f7c9f,#4280a2,#4886a7,#528fae,#5b97b4)"></i>
<i style="background:linear-gradient(90deg,#2f668e,#306990,#336c93,#367196,#39759a,#3c799d,#3e7b9f,#427fa2,#4885a6,#518fae,#5a97b4)"></i>
<i style="background:linear-gradient(90deg,#2e668e,#306990,#336c93,#367096,#397499,#3b789c,#3e7b9e,#417ea1,#4784a6,#508ead,#5996b3)"></i>
<i style="background:linear-gradient(90deg,#2e668d,#30688f,#326c92,#357096,#387499,#3b779b,#3d7a9e,#417ea1,#4684a5,#4f8dac,#5995b3)"></i>
<i style="background:linear-gradient(90deg,#2e658d,#30688f,#326b92,#356f95,#387398,#3a769b,#3d7a9d,#407da0,#4683a5,#4f8cac,#5895b2)"></i>
<i style="background:linear-gradient(90deg,#2e658d,#30688f,#326b92,#356f95,#377298,#3a769a,#3c799d,#3f7da0,#4582a4,#4e8cab,#5794b2)"></i>
<i style="background:linear-gradient(90deg,#2e658d,#2f678f,#326b91,#346e94,#377297,#39759a,#3c789c,#3f7c9f,#4482a4,#4d8bab,#5694b2)"></i>
<i style="background:linear-gradient(90deg,#2d658c,#2f678e,#316a91,#346e94,#377197,#397599,#3b789c,#3e7b9f,#4481a3,#4c8aaa,#5593b1)"></i>
<i style="background:linear-gradient(90deg,#2d648c,#2f678e,#316a91,#346d94,#367196,#387499,#3b779b,#3e7b9e,#4381a3,#4c89aa,#5593b1)"></i>
<i style="background:linear-gradient(90deg,#2d648c,#2f668e,#316990,#336d93,#367096,#387398,#3a769b,#3d7a9e,#4380a2,#4b89a9,#5492b0)"></i>
<i style="background:linear-gradient(90deg,#2d648c,#2f668e,#316990,#336d93,#357096,#387398,#3a769a,#3d7a9e,#427fa2,#4b88a9,#5391b0)"></i>
<i style="background:linear-gradient(90deg,#2d648c,#2e668d,#306990,#336c93,#356f95,#377298,#39759a,#3c799d,#427fa1,#4a87a8,#5390af)"></i>
<i style="background:linear-gradient(90deg,#2d638b,#2e668d,#306890,#336c92,#356f95,#377297,#397599,#3c799d,#417ea1,#4987a8,#5290af)"></i>
<i style="background:linear-gradient(90deg,#2c638b,#2e658d,#30688f,#326b92,#346e94,#367197,#387499,#3c789d,#417ea1,#4986a7,#518fae)"></i>
<i style="background:linear-gradient(90deg,#2c638b,#2e658d,#30688f,#326b92,#346e94,#367196,#387499,#3b789c,#407da0,#4886a7,#518ead)"></i>
<i style="background:linear-gradient(90deg,#2c638b,#2e658d,#2f678f,#326b91,#346e94,#367096,#387398,#3b779c,#407da0,#4885a6,#508ead)"></i>
<i style="background:linear-gradient(90deg,#2c638b,#2d648c,#2f678f,#326a91,#346d93,#357096,#377398,#3a779b,#3f7ca0,#4784a6,#4f8dac)"></i>
<i style="background:linear-gradient(90deg,#2c628a,#2d648c,#2f678e,#316a91,#336d93,#356f95,#377297,#3a769b,#3f7c9f,#4684a5,#4f8cac)"></i>
<i style="background:linear-gradient(90deg,#2c628a,#2d648c,#2f678e,#316a91,#336c93,#356f95,#377297,#3a769a,#3e7b9f,#4683a5,#4e8cab)"></i>
<i style="background:linear-gradient(90deg,#2b628a,#2d648c,#2f668e,#316990,#336c93,#356f95,#367197,#39759a,#3e7b9f,#4583a5,#4d8bab)"></i>
<i style="background:linear-gradient(90deg,#2b628a,#2d648c,#2e668e,#316990,#326c92,#346e94,#367196,#39759a,#3e7b9e,#4582a4,#4d8aaa)"></i>
<i style="background:linear-gradient(90deg,#2b628a,#2c638b,#2e668d,#306990,#326b92,#346e94,#367096,#397499,#3d7a9e,#4482a4,#4c8aaa)"></i>
<i style="background:linear-gradient(90deg,#2b628a,#2c638b,#2e658d,#306890,#326b92,#346d94,#367096,#387499,#3d7a9e,#4481a3,#4b89a9)"></i>
<i style="background:linear-gradient(90deg,#2b6189,#2c638b,#2e658d,#30688f,#326b91,#336d93,#357095,#387399,#3c799d,#4381a3,#4b88a9)"></i>
<i style="background:linear-gradient(90deg,#2b6189,#2c638b,#2e658d,#30688f,#316a91,#336d93,#356f95,#387398,#3c799d,#4380a3,#4a88a8)"></i>
<i style="background:linear-gradient(90deg,#2b6189,#2c638b,#2d658d,#2f678f,#316a91,#336c93,#356f95,#377398,#3c799d,#4380a2,#4a87a8)"></i>
<i style="background:linear-gradient(90deg,#2a6189,#2c628a,#2d648c,#2f678f,#316a91,#336c92,#346e94,#377298,#3b789c,#427fa2,#4987a8)"></i>
<i style="background:linear-gradient(90deg,#2a6189,#2b628a,#2d648c,#2f678e,#316990,#326c92,#346e94,#377297,#3b789c,#427fa2,#4986a7)"></i>
<i style="background:linear-gradient(90deg,#2a6088,#2b628a,#2d648c,#2f678e,#316990,#326b92,#346e94,#377197,#3b779c,#417ea1,#4885a7)"></i>
<i style="background:linear-gradient(90deg,#2a6088,#2b628a,#2d648c,#2f668e,#306990,#326b92,#346d94,#367197,#3a779b,#417ea1,#4785a6)"></i>
<i style="background:linear-gradient(90deg,#2a6088,#2b628a,#2d638b,#2e668e,#306890,#326b91,#346d93,#367196,#3a769b,#407da0,#4784a6)"></i>
<i style="background:linear-gradient(90deg,#2a6088,#2b6189,#2c638b,#2e668d,#30688f,#316a91,#336d93,#367096,#3a769a,#407da0,#4684a5)"></i>
<i style="background:linear-gradient(90deg,#2a6088,#2b6189,#2c638b,#2e658d,#30688f,#316a91,#336c93,#367096,#39759a,#3f7da0,#4683a5)"></i>
<i style="background:linear-gradient(90deg,#296088,#2b6189,#2c638b,#2e658d,#2f678f,#316a91,#336c93,#357095,#39759a,#3f7c9f,#4583a4)"></i>
<i style="background:linear-gradient(90deg,#295f87,#2a6189,#2c638b,#2e658d,#2f678f,#316990,#336c92,#356f95,#397499,#3f7c9f,#4582a4)"></i>
<i style="background:linear-gradient(90deg,#295f87,#2a6189,#2c628a,#2d658c,#2f678e,#316990,#326c92,#356f95,#387499,#3e7b9f,#4481a3)"></i>
<i style="background:linear-gradient(90deg,#295f87,#2a6088,#2b628a,#2d648c,#2f678e,#306990,#326b92,#356f95,#387499,#3e7b9e,#4481a3)"></i>
<i style="background:linear-gradient(90deg,#295f87,#2a6088,#2b628a,#2d648c,#2f668e,#306890,#326b92,#346e94,#387398,#3d7a9e,#4380a3)"></i>
<i style="background:linear-gradient(90deg,#295f87,#2a6088,#2b628a,#2d648c,#2e668e,#30688f,#326b91,#346e94,#387398,#3d7a9e,#4280a2)"></i>
<i style="background:linear-gradient(90deg,#295f87,#2a6088,#2b6189,#2d648c,#2e668d,#30688f,#316a91,#346e94,#377298,#3c7a9d,#427fa2)"></i>
<i style="background:linear-gradient(90deg,#295e86,#296088,#2b6189,#2c638b,#2e658d,#30688f,#316a91,#346d93,#377297,#3c799d,#417fa1)"></i>
<i style="background:linear-gradient(90deg,#285e86,#295f87,#2b6189,#2c638b,#2e658d,#2f678f,#316a91,#336d93,#377297,#3c799d,#417ea1)"></i>
<i style="background:linear-gradient(90deg,#285e86,#295f87,#2a6189,#2c638b,#2e658d,#2f678e,#316990,#336d93,#367197,#3b789c,#407da0)"></i>
<i style="background:linear-gradient(90deg,#285e86,#295f87,#2a6189,#2c638b,#2d658c,#2f678e,#316990,#336c93,#367196,#3b779c,#407da0)"></i>
<i style="background:linear-gradient(90deg,#285e86,#295f87,#2a6088,#2c628a,#2d648c,#2f668e,#306990,#336c92,#367096,#3a779b,#3f7ca0)"></i>
<i style="background:linear-gradient(90deg,#285e86,#295f87,#2a6088,#2c628a,#2d648c,#2e668e,#306890,#326c92,#357096,#3a769b,#3f7c9f)"></i>
<i style="background:linear-gradient(90deg,#285d85,#295e86,#2a6088,#2b628a,#2d648c,#2e668d,#30688f,#326b92,#356f95,#3a769a,#3e7b9f)"></i>
<i style="background:linear-gradient(90deg,#285d85,#285e86,#2a6088,#2b628a,#2d638b,#2e658d,#30688f,#326b92,#356f95,#39759a,#3e7b9e)"></i>
<i style="background:linear-gradient(90deg,#275d85,#285e86,#296088,#2b6189,#2c638b,#2e658d,#30688f,#326b91,#356f95,#397599,#3d7a9e)"></i>
<i style="background:linear-gradient(90deg,#275d85,#285e86,#295f87,#2b6189,#2c638b,#2e658d,#2f678f,#316a91,#346e94,#387499,#3d7a9e)"></i>
<i style="background:linear-gradient(90deg,#275d85,#285e86,#295f87,#2b6189,#2c638b,#2d658c,#2f678e,#316a91,#346e94,#387399,#3c799d)"></i>
<i style="background:linear-gradient(90deg,#275d85,#285e86,#295f87,#2a6189,#2c638b,#2d648c,#2f678e,#316a91,#346d94,#387398,#3c799d)"></i>
<i style="background:linear-gradient(90deg,#275c84,#285d85,#295f87,#2a6189,#2c628a,#2d648c,#2f668e,#316990,#336d93,#377298,#3b789c)"></i>
<i style="background:linear-gradient(90deg,#275c84,#285d85,#295f87,#2a6088,#2b628a,#2d648c,#2f668e,#316990,#336d93,#377297,#3b779b)"></i>
<i style="background:linear-gradient(90deg,#275c84,#275d85,#295e86,#2a6088,#2b628a,#2d648c,#2e668e,#306990,#336c93,#377197,#3a769b)"></i>
<i style="background:linear-gradient(90deg,#275c84,#275d85,#285e86,#2a6088,#2b628a,#2c638b,#2e668d,#306890,#336c92,#367196,#3a769a)"></i>
<i style="background:linear-gradient(90deg,#275c84,#275d85,#285e86,#2a6088,#2b6189,#2c638b,#2e658d,#30688f,#326b92,#367096,#39759a)"></i>
<i style="background:linear-gradient(90deg,#265c84,#275d85,#285e86,#296088,#2b6189,#2c638b,#2e658d,#30688f,#326b92,#357096,#397499)"></i>
<i style="background:linear-gradient(90deg,#265c84,#275c84,#285e86,#295f87,#2b6189,#2c638b,#2e658d,#2f678f,#326b91,#356f95,#387499)"></i>
<i style="background:linear-gradient(90deg,#265c84,#275c84,#285e86,#295f87,#2a6189,#2c628a,#2d648c,#2f678f,#326a91,#356f95,#387398)"></i>
<i style="background:linear-gradient(90deg,#265b83,#275c84,#285d85,#295f87,#2a6189,#2c628a,#2d648c,#2f678e,#316a91,#346e94,#377398)"></i>
<i style="background:linear-gradient(90deg,#265b83,#275c84,#285d85,#295f87,#2a6088,#2b628a,#2d648c,#2f678e,#316a91,#346e94,#377297)"></i>
<i style="background:linear-gradient(90deg,#265b83,#275c84,#275d85,#295f87,#2a6088,#2b628a,#2d648c,#2f668e,#316990,#346d94,#377197)"></i>
<i style="background:linear-gradient(90deg,#265b83,#265c84,#275d85,#295e86,#2a6088,#2b628a,#2d648c,#2e668e,#306990,#336d93,#367196)"></i>
<i style="background:linear-gradient(90deg,#265b83,#265c84,#275d85,#285e86,#2a6088,#2b6189,#2c638b,#2e668d,#306990,#336c93,#367096)"></i>
<i style="background:linear-gradient(90deg,#265b83,#265c84,#275d85,#285e86,#296088,#2b6189,#2c638b,#2e658d,#30688f,#336c92,#357095)"></i>
<i style="background:linear-gradient(90deg,#265b83,#265b83,#275c84,#285e86,#295f87,#2b6189,#2c638b,#2e658d,#30688f,#326b92,#356f95)"></i>
<i style="background:linear-gradient(90deg,#265b83,#265b83,#275c84,#285e86,#295f87,#2a6189,#2c638b,#2e658d,#30688f,#326b92,#356f95)"></i>
<i style="background:linear-gradient(90deg,#255b83,#265b83,#275c84,#285e86,#295f87,#2a6189,#2c628a,#2d658c,#2f678f,#326b91,#346e94)"></i>
<i style="background:linear-gradient(90deg,#255a82,#265b83,#275c84,#285d85,#295f87,#2a6088,#2c628a,#2d648c,#2f678e,#316a91,#346d94)"></i>
<i style="background:linear-gradient(90deg,#255a82,#265b83,#275c84,#285d85,#295f87,#2a6088,#2b628a,#2d648c,#2f678e,#316a91,#336d93)"></i>
<i style="background:linear-gradient(90deg,#255a82,#265b83,#265c84,#285d85,#295f87,#2a6088,#2b628a,#2d648c,#2f668e,#316990,#336c93)"></i>
<i style="background:linear-gradient(90deg,#255a82,#265b83,#265c84,#275d85,#295e86,#2a6088,#2b628a,#2d648c,#2e668e,#316990,#336c92)"></i>
<i style="background:linear-gradient(90deg,#255a82,#265b83,#265c84,#275d85,#285e86,#2a6088,#2b6189,#2c638b,#2e668d,#306990,#326c92)"></i>
<i style="background:linear-gradient(90deg,#255a82,#255b83,#265b83,#275d85,#285e86,#295f87,#2b6189,#2c638b,#2e658d,#30688f,#326b92)"></i>
<i style="background:linear-gradient(90deg,#255a82,#255b83,#265b83,#275d85,#285e86,#295f87,#2b6189,#2c638b,#2e658d,#30688f,#326b91)"></i>
<i style="background:linear-gradient(90deg,#255a82,#255a82,#265b83,#275d85,#285e86,#295f87,#2a6189,#2c638b,#2d658d,#2f678f,#316a91)"></i>
<i style="background:linear-gradient(90deg,#255a82,#255a82,#265b83,#275c84,#285e86,#295f87,#2a6189,#2c628a,#2d648c,#2f678e,#316a91)"></i>
<i style="background:linear-gradient(90deg,#255a82,#255a82,#265b83,#275c84,#285e86,#295f87,#2a6088,#2c628a,#2d648c,#2f678e,#316990)"></i>
<i style="background:linear-gradient(90deg,#255a82,#255a82,#265b83,#275c84,#285d85,#295f87,#2a6088,#2b628a,#2d648c,#2f668e,#306990)"></i>
<i style="background:linear-gradient(90deg,#255a82,#255a82,#265b83,#275c84,#285d85,#295f87,#2a6088,#2b628a,#2d648c,#2e668e,#306890)"></i>
<i style="background:linear-gradient(90deg,#255a82,#255a82,#265b83,#275c84,#285d85,#295e86,#2a6088,#2b628a,#2c638b,#2e668d,#30688f)"></i>
<i style="background:linear-gradient(90deg,#255a82,#255a82,#265b83,#265c84,#275d85,#285e86,#2a6088,#2b6189,#2c638b,#2e658d,#30688f)"></i>
<i style="background:linear-gradient(90deg,#255a82,#255a82,#255b83,#265c84,#275d85,#285e86,#296088,#2b6189,#2c638b,#2e658d,#2f678f)"></i>
<i style="background:linear-gradient(90deg,#255981,#255a82,#255b83,#265c84,#275d85,#285e86,#295f87,#2b6189,#2c638b,#2d658d,#2f678e)"></i>
<i style="background:linear-gradient(90deg,#255981,#255a82,#255a82,#265c84,#275d85,#285e86,#295f87,#2a6189,#2c628a,#2d648c,#2f678e)"></i>
<i style="background:linear-gradient(90deg,#255981,#255a82,#255a82,#265b83,#275d85,#285e86,#295f87,#2a6189,#2b628a,#2d648c,#2f668e)"></i>
<i style="background:linear-gradient(90deg,#255981,#255a82,#255a82,#265b83,#275c84,#285e86,#295f87,#2a6088,#2b628a,#2d648c,#2e668e)"></i>
<i style="background:linear-gradient(90deg,#245981,#255a82,#255a82,#265b83,#275c84,#285d85,#295f87,#2a6088,#2b628a,#2d648c,#2e668d)"></i>
<i style="background:linear-gradient(90deg,#245981,#255a82,#255a82,#265b83,#275c84,#285d85,#295f87,#2a6088,#2b6189,#2c638b,#2e658d)"></i>
<i style="background:linear-gradient(90deg,#245981,#255a82,#255a82,#265b83,#275c84,#285d85,#295f87,#2a6088,#2b6189,#2c638b,#2e658d)"></i>
<i style="background:linear-gradient(90deg,#245981,#255981,#255a82,#265b83,#275c84,#275d85,#285e86,#2a6088,#2b6189,#2c638b,#2d658c)"></i>
<i style="background:linear-gradient(90deg,#245981,#255981,#255a82,#265b83,#275c84,#275d85,#285e86,#295f87,#2a6189,#2c638b,#2d648c)"></i>
<i style="background:linear-gradient(90deg,#245981,#255981,#255a82,#265b83,#275c84,#275d85,#285e86,#295f87,#2a6189,#2c628a,#2d648c)"></i>
<i style="background:linear-gradient(90deg,#245981,#245981,#255a82,#265b83,#265c84,#275d85,#285e86,#295f87,#2a6088,#2b628a,#2d648c)"></i>
<i style="background:linear-gradient(90deg,#245981,#245981,#255a82,#265b83,#265c84,#275d85,#285e86,#295f87,#2a6088,#2b628a,#2d648c)"></i>
<i style="background:linear-gradient(90deg,#245981,#245981,#255a82,#265b83,#265c84,#275d85,#285e86,#295f87,#2a6088,#2b628a,#2c638b)"></i>
<i style="background:linear-gradient(90deg,#245981,#245981,#255a82,#255b83,#265c84,#275d85,#285e86,#295f87,#2a6088,#2b6189,#2c638b)"></i>
<i style="background:linear-gradient(90deg,#245981,#245981,#255a82,#255b83,#265b83,#275c84,#285d85,#295f87,#2a6088,#2b6189,#2c638b)"></i>
<i style="background:linear-gradient(90deg,#245981,#245981,#255a82,#255a82,#265b83,#275c84,#285d85,#295e86,#296088,#2b6189,#2c638b)"></i>
<i style="background:linear-gradient(90deg,#245981,#245981,#255a82,#255a82,#265b83,#275c84,#285d85,#285e86,#295f87,#2b6189,#2c628a)"></i>
<i style="background:linear-gradient(90deg,#245981,#245981,#255981,#255a82,#265b83,#275c84,#285d85,#285e86,#295f87,#2a6189,#2c628a)"></i>
<i style="background:linear-gradient(90deg,#245981,#245981,#255981,#255a82,#265b83,#275c84,#275d85,#285e86,#295f87,#2a6189,#2b628a)"></i>
<i style="background:linear-gradient(90deg,#245981,#245981,#255981,#255a82,#265b83,#275c84,#275d85,#285e86,#295f87,#2a6088,#2b628a)"></i>
</div>
<div id="bar" class="abs"></div>

<!-- bars -->
<div class="abs" style="left:321.2px;top:234.7px;width:160.1px;height:132.3px;background:rgba(255,255,255,0.3)"></div>
<div class="abs" style="left:321.2px;top:320.3px;width:160.1px;height:46.7px;background:#007aff"></div>
<div class="abs" style="left:496px;top:234.7px;width:160px;height:132.3px;background:#007000"></div>
<div class="abs" style="left:670.6px;top:234.7px;width:160.2px;height:132.3px;background:rgba(255,255,255,0.3)"></div>
<div class="abs" style="left:670.6px;top:294.3px;width:160.2px;height:72.7px;background:#750d0e"></div>

<!-- percent boxes -->
<div class="abs col" style="left:321.2px;top:374.3px;width:160.1px;height:59.5px"></div>
<div class="abs col" style="left:496px;top:374.3px;width:160px;height:59.5px"></div>
<div class="abs col" style="left:670.6px;top:374.3px;width:160.2px;height:59.5px"></div>
<!-- white band -->
<div class="abs" style="left:321.2px;top:433.4px;width:509.6px;height:81.9px;background:#fff"></div>
<!-- change boxes -->
<div class="abs col" style="left:321.2px;top:521.6px;width:160.1px;height:35.2px"></div>
<div class="abs col" style="left:496px;top:521.6px;width:160px;height:35.2px"></div>
<div class="abs col" style="left:670.6px;top:521.6px;width:160.2px;height:35.2px"></div>

<!-- nav -->
<div class="abs nav" style="left:6px"></div>
<div class="abs nav" style="left:1106px"></div>

<svg class="abs" style="left:0;top:0;will-change:transform" width="1156" height="751" viewBox="0 0 1156 751">
 <!-- zdf logo -->
 <circle cx="81.3" cy="75.7" r="21.2" fill="rgba(255,255,255,0.46)"/>
 <g id="zdf" fill="none">
  <path d="M84.2,68.1 H99.4 V77.2 H86.1 V83.2 H101.3" stroke="#fff" stroke-width="3.8" stroke-linejoin="round"/>
  <path d="M102.7,67.6 H111 A5,5 0 0 1 116,72.6 V78.6 A5,5 0 0 1 111,83.6 H102.7 Z" stroke="rgba(255,255,255,0.55)" stroke-width="2.9"/>
  <path d="M118.3,85.1 V69.6 Q118.3,66.2 121.7,66.2 H132.8 V69.3 H121.7 V75 H131.4 V77.8 H121.7 V85.1 Z" fill="rgba(255,255,255,0.55)"/>
 </g>
 <!-- polit zigzag -->
 <polyline points="900.2,77.4 939,129.6 1014.4,57.8 1038.7,89.7 1071.3,58.5" fill="none" stroke="#4f7797" stroke-width="1.5"/>
 <text id="polit" x="938.9" y="91.6" font-size="33.6" font-weight="bold" fill="#1b4e73" letter-spacing="-0.8">P<tspan fill="#6e96b4">o</tspan>lit</text>
 <text id="baro" x="939.1" y="110.1" font-size="21.5" fill="#1b4e73" letter-spacing="-0.15">Bar<tspan fill="#6e96b4">o</tspan>meter</text>
 <g fill="#1b4e73"><circle cx="712.2" cy="84.6" r="2.5"/><circle cx="719.5" cy="84.6" r="2.5"/><circle cx="726.9" cy="84.6" r="2.5"/></g>
 <!-- chevrons -->
 <polyline points="33.1,365 23.3,374.6 33.1,384.2" fill="none" stroke="#7fa3ba" stroke-width="2.6"/>
 <polyline points="1122,365 1131.8,374.6 1122,384.2" fill="none" stroke="#a0b6c4" stroke-width="2.6"/>
 <!-- plus button -->
 <circle cx="1097" cy="691" r="20" fill="#fa7d19"/>
 <rect x="1086" y="690" width="22" height="2" fill="#fff"/>
 <rect x="1096" y="680" width="2" height="22" fill="#fff"/>
<text id="title" y="86.7" font-size="27.0" font-weight="bold" fill="#1b4e73"><tspan x="222.43" letter-spacing="0.611">Aktuell</tspan> <tspan x="325.59" letter-spacing="0.530">geltende</tspan> <tspan x="449.39" letter-spacing="-0.642">Corona-Maßnahmen</tspan> <tspan x="709.15 716.45 723.85" font-size="22">...</tspan></text>
<text id="sub" y="119.6" font-size="24.0" font-weight="normal" fill="#3c6987"><tspan x="222.91" letter-spacing="0.227">(im</tspan> <tspan x="266.09" letter-spacing="0.614">Vergleich</tspan> <tspan x="378.53" letter-spacing="-0.281">zu</tspan> <tspan x="411.73" letter-spacing="-0.393">Dezember)</tspan></text>
<g transform="translate(364.00 0) scale(0.9718 1) translate(-364.00 0)">
<clipPath id="k_p1"><path clip-rule="evenodd" d="M344.0,372.0 H459.4 V434.2 H344.0 Z M361.67,412.90 H370.22 V419.10 H361.67 Z M374.33,412.90 H382.21 V419.10 H374.33 Z"/></clipPath>
<text id="p1" x="360.01" y="417.6" font-size="41.5" font-weight="normal" fill="#fff" stroke="#21466a" stroke-width="0.7" letter-spacing="0.000" clip-path="url(#k_p1)">18%</text>
</g>
<g transform="translate(535.70 0) scale(0.9747 1) translate(-535.70 0)">
<clipPath id="k_p2"><path clip-rule="evenodd" d="M515.7,372.0 H633.6 V434.2 H515.7 Z M558.78,412.90 H567.33 V419.10 H558.78 Z M571.44,412.90 H579.32 V419.10 H571.44 Z"/></clipPath>
<text id="p2" x="534.04" y="417.6" font-size="41.5" font-weight="normal" fill="#fff" stroke="#244968" stroke-width="0.7" letter-spacing="0.000" clip-path="url(#k_p2)">51%</text>
</g>
<g transform="translate(710.40 0) scale(0.9762 1) translate(-710.40 0)">
<text id="p3" x="708.31" y="417.6" font-size="41.5" font-weight="normal" fill="#fff" stroke="#284c6a" stroke-width="0.7" letter-spacing="0.000">28%</text>
</g>
<text id="l1a" x="377.39" y="468.1" font-size="23.0" font-weight="bold" fill="#1b4e73" letter-spacing="-0.119">sind</text>
<text id="l1b" x="333.97" y="495.2" font-size="23.0" font-weight="bold" fill="#1b4e73" letter-spacing="0.813">übertrieben</text>
<text id="l2a" y="468.1" font-size="23.0" font-weight="bold" fill="#1b4e73"><tspan x="509.99" letter-spacing="-1.019">sind</tspan> <tspan x="564.06" letter-spacing="0.201">gerade</tspan></text>
<text id="l2b" x="537.08" y="495.2" font-size="23.0" font-weight="bold" fill="#1b4e73" letter-spacing="0.929">richtig</text>
<text id="l3a" x="703.58" y="453.8" font-size="23.0" font-weight="bold" fill="#1b4e73" letter-spacing="-0.357">müssten</text>
<text id="l3b" x="714.49" y="481.2" font-size="23.0" font-weight="bold" fill="#1b4e73" letter-spacing="1.092">härter</text>
<text id="l3c" x="696.43" y="508.3" font-size="23.0" font-weight="bold" fill="#1b4e73" letter-spacing="0.874">ausfallen</text>
<text id="c1" x="386.78" y="544.2" font-size="25.0" font-weight="normal" fill="#fff" stroke="#193d5f" stroke-width="0.2" letter-spacing="-0.233">+5</text>
<clipPath id="k_c2"><path clip-rule="evenodd" d="M535.9,516.7 H615.2 V554.2 H535.9 Z M569.88,540.73 H575.03 V545.70 H569.88 Z M577.51,540.73 H582.26 V545.70 H577.51 Z"/></clipPath>
<text id="c2" x="554.68" y="544.2" font-size="25.0" font-weight="normal" fill="#fff" stroke="#1a3e60" stroke-width="0.2" letter-spacing="-0.394" clip-path="url(#k_c2)">+16</text>
<clipPath id="k_c3"><path clip-rule="evenodd" d="M713.7,516.7 H784.3 V554.2 H713.7 Z M756.80,540.73 H761.95 V545.70 H756.80 Z M764.43,540.73 H769.18 V545.70 H764.43 Z"/></clipPath>
<text id="c3" x="732.59" y="544.2" font-size="25.0" font-weight="normal" fill="#fff" stroke="#1b3f61" stroke-width="0.2" letter-spacing="0.493" clip-path="url(#k_c3)">-21</text>
<g transform="translate(546.10 0) scale(0.9345 1) translate(-546.10 0)">
<clipPath id="k_cnt"><path clip-rule="evenodd" d="M526.1,674.5 H624.7 V712.3 H526.1 Z M553.94,698.72 H559.13 V703.70 H553.94 Z M561.62,698.72 H566.41 V703.70 H561.62 Z"/></clipPath>
<text id="cnt" x="544.54" y="702.2" font-size="25.2" font-weight="normal" fill="#fff" stroke="#245f84" stroke-width="0.35" letter-spacing="0.000" clip-path="url(#k_cnt)">(1/34)</text>
</g>
<text id="src" x="994.85" y="593.8" font-size="18.4" font-weight="bold" fill="#e6ebf5" letter-spacing="-0.207">Quelle:</text>
<g transform="translate(1061.10 0) scale(0.8626 1) translate(-1061.10 0)">
<text id="src2" x="1060.55" y="593.8" font-size="18.4" font-weight="bold" fill="#e6ebf5" letter-spacing="0.000">ZDF</text>
</g>
<text id="btm" x="194.74" y="766.6" font-size="29.5" font-weight="normal" fill="#3a3a3a" stroke="#e8e8e8" stroke-width="0.6" letter-spacing="-0.900">Top Ten: <tspan letter-spacing='0'>Mer</tspan>kel weiter vorn</text>
</svg>
</body>
</html>
